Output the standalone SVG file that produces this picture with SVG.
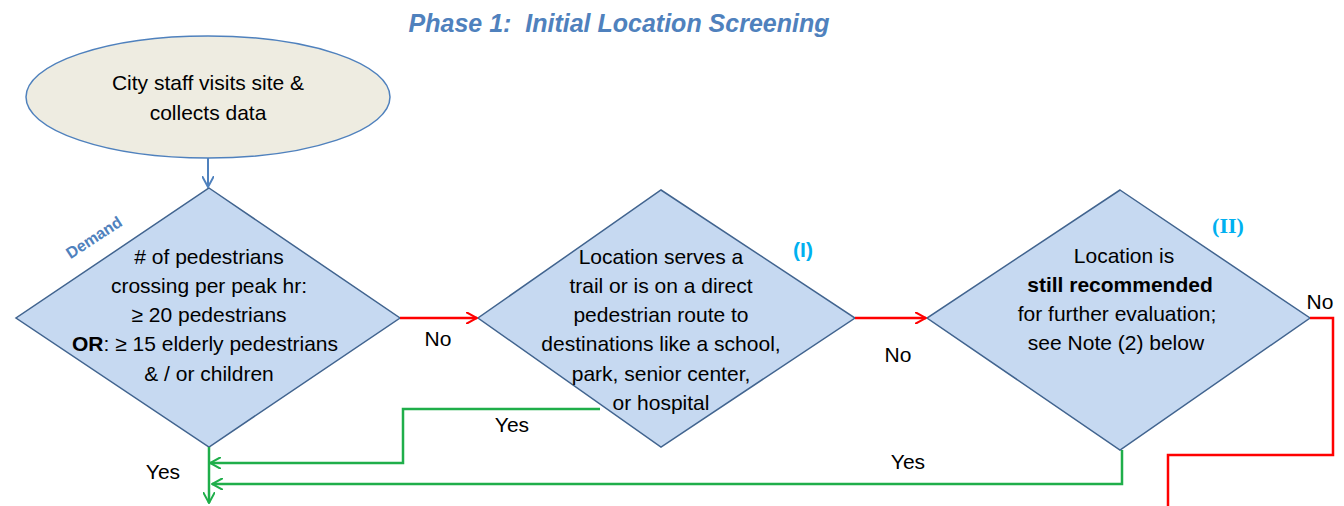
<svg xmlns="http://www.w3.org/2000/svg" width="1344" height="506" viewBox="0 0 1344 506">
<style>
text{font-family:"Liberation Sans",Arial,sans-serif;font-size:21px;fill:#000}
.c{text-anchor:middle}
.dia{fill:#c6d9f1;stroke:#41648f;stroke-width:1.5}
.red{fill:none;stroke:#ff0000;stroke-width:2.5}
.grn{fill:none;stroke:#1fae4a;stroke-width:2.5}
.blu{fill:none;stroke:#4f81bd;stroke-width:2}
</style>
<defs>
<marker id="ar" viewBox="0 0 12 12" refX="11" refY="6" markerWidth="12" markerHeight="12" markerUnits="userSpaceOnUse" orient="auto"><path d="M0,0L11,6L0,12" fill="none" stroke="#ff0000" stroke-width="2"/></marker>
<marker id="ag" viewBox="0 0 12 12" refX="11" refY="6" markerWidth="12" markerHeight="12" markerUnits="userSpaceOnUse" orient="auto"><path d="M0,0L11,6L0,12" fill="none" stroke="#1fae4a" stroke-width="2"/></marker>
<marker id="ab" viewBox="0 0 12 12" refX="11" refY="6" markerWidth="12" markerHeight="12" markerUnits="userSpaceOnUse" orient="auto"><path d="M0,0L11,6L0,12" fill="none" stroke="#4f81bd" stroke-width="2"/></marker>
</defs>
<text x="619" y="32" class="c" style="font-weight:bold;font-style:italic;font-size:25px;fill:#4f81bd">Phase 1:&#160; Initial Location Screening</text>
<g id="start">
<ellipse cx="208" cy="97" rx="182" ry="61" fill="#eeece1" stroke="#4f81bd" stroke-width="1.5"/>
<text x="208" y="90" class="c">City staff visits site &amp;</text>
<text x="208" y="120" class="c">collects data</text>
</g>
<g id="demand">
<polygon class="dia" points="209,188 400,318 209,447 16,318"/>
<text transform="translate(97,242) rotate(-33)" class="c" style="font-size:16px;font-weight:bold;fill:#4f81bd">Demand</text>
<text x="209" y="264" class="c"># of pedestrians</text>
<text x="209" y="293" class="c">crossing per peak hr:</text>
<text x="209" y="322" class="c">≥ 20 pedestrians</text>
<text x="205" y="351" class="c"><tspan font-weight="bold">OR</tspan>: ≥ 15 elderly pedestrians</text>
<text x="209" y="381" class="c">&amp; / or children</text>
</g>
<g id="route">
<polygon class="dia" points="661,190 855,318 661,447 478,318"/>
<text x="803" y="257" class="c" style="font-weight:bold;fill:#00b0f0">(I)</text>
<text x="661" y="264" class="c">Location serves a</text>
<text x="661" y="293" class="c">trail or is on a direct</text>
<text x="661" y="322" class="c">pedestrian route to</text>
<text x="661" y="351" class="c">destinations like a school,</text>
<text x="661" y="381" class="c">park, senior center,</text>
<text x="661" y="410" class="c">or hospital</text>
</g>
<g id="recommended">
<polygon class="dia" points="1120,190 1310,318 1120,450 927,318"/>
<text x="1228" y="233" class="c" style="font-weight:bold;font-family:'Liberation Serif',serif;font-size:22px;fill:#00b0f0">(II)</text>
<text x="1124" y="263" class="c">Location is</text>
<text x="1120" y="292" class="c" font-weight="bold">still recommended</text>
<text x="1117" y="321" class="c">for further evaluation;</text>
<text x="1116" y="350" class="c">see Note (2) below</text>
</g>
<g id="connectors">
<path class="blu" d="M208,158V187" marker-end="url(#ab)"/>
<path class="red" d="M400,318H477" marker-end="url(#ar)"/>
<path class="red" d="M855,318H926" marker-end="url(#ar)"/>
<path class="red" d="M1310,318H1333V455H1168V506"/>
<path class="grn" d="M600,409H403V463H210" marker-end="url(#ag)"/>
<path class="grn" d="M1122,450V484H212" marker-end="url(#ag)"/>
<path class="grn" d="M209,447V503" marker-end="url(#ag)"/>
<text x="438" y="346" class="c">No</text>
<text x="898" y="362" class="c">No</text>
<text x="1320" y="309" class="c">No</text>
<text x="512" y="432" class="c">Yes</text>
<text x="908" y="469" class="c">Yes</text>
<text x="163" y="479" class="c">Yes</text>
</g>
</svg>
